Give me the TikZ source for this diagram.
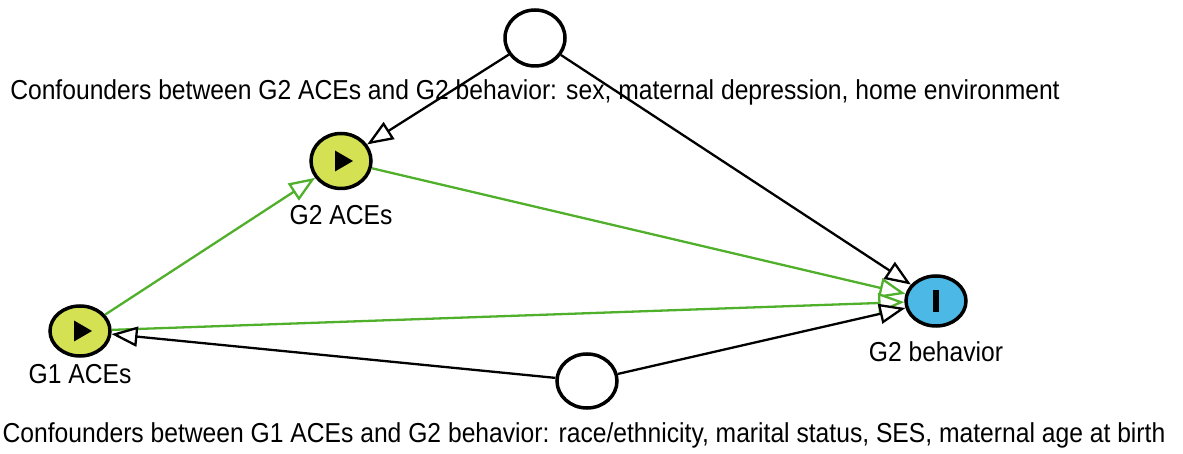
\documentclass[tikz,border=0pt]{standalone}
\usepackage{fontspec}
\setmainfont{Liberation Sans}[FakeStretch=0.9]
\usetikzlibrary{arrows.meta, shapes.geometric, calc}
\definecolor{acesgreen}{RGB}{212,225,83}
\definecolor{outblue}{RGB}{76,184,230}
\definecolor{pathgreen}{RGB}{80,176,44}

\begin{document}
\begin{tikzpicture}[x=1bp, y=-1bp,
  var/.style={ellipse, draw, line width=3.5bp, inner sep=0pt, minimum width=60bp, minimum height=54bp},
  latent/.style={var, fill=white},
  exposure/.style={var, fill=acesgreen, path picture={
      \fill[black] ($(path picture bounding box.center)+(-6,-10.5)$) -- ++(18,10.5) -- ++(-18,10.5) -- cycle;}},
  outcome/.style={var, fill=outblue, path picture={
      \fill[black] ($(path picture bounding box.center)+(-3,-11)$) rectangle ++(6,22);}},
  lbl/.style={anchor=base, inner sep=0pt, font=\fontsize{27.5}{30}\selectfont},
  arr/.style={-{Triangle[length=26bp, width=20bp, fill=white]}, line width=2.3bp},
  causal/.style={arr, pathgreen},
]
\useasboundingbox (0,0) rectangle (1183,454);

% Confounders (unobserved)
\node[latent, minimum height=56bp] (conf2) at (535,38) {};
\node[lbl] (conf2lbl) at (535,100) {Confounders between G2 ACEs and G2 behavior: sex, maternal depression, home environment};
\node[latent] (conf1) at (587,381) {};
\node[lbl] (conf1lbl) at (584,443) {Confounders between G1 ACEs and G2 behavior: race/ethnicity, marital status, SES, maternal age at birth};

% Exposures and outcome
\node[exposure, minimum height=55bp] (g2aces) at (341,161) {};
\node[lbl] (g2lbl) at (341,225) {G2 ACEs};
\node[exposure, minimum height=50bp] (g1aces) at (80,331) {};
\node[lbl] (g1lbl) at (80,384) {G1 ACEs};
\node[outcome, minimum height=50bp] (g2beh) at (936,301) {};
\node[lbl] (behlbl) at (936,362) {G2 behavior};

% Causal paths
\draw[causal] (g1aces) -- (g2aces);
\draw[causal] (g2aces) -- (g2beh);
\draw[causal] (g1aces) -- (g2beh);

% Confounding paths
\draw[arr] (conf2) -- (g2aces);
\draw[arr] (conf2) -- (g2beh);
\draw[arr] (conf1) -- (g1aces);
\draw[arr] (conf1) -- (g2beh);
\end{tikzpicture}
\end{document}
